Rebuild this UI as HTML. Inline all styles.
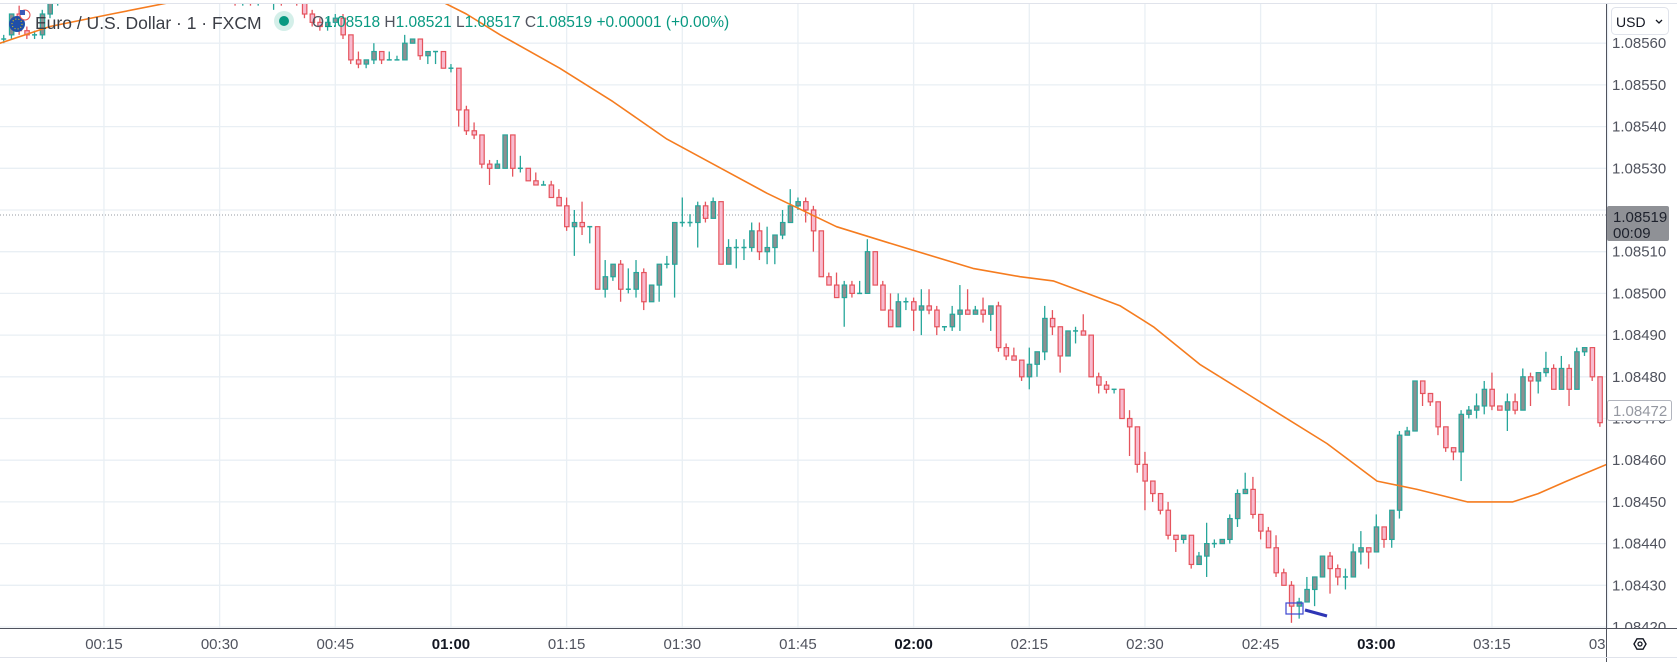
<!DOCTYPE html>
<html><head><meta charset="utf-8"><style>
html,body{margin:0;padding:0;background:#fff;}
svg{display:block;font-family:"Liberation Sans",sans-serif;}
</style></head><body>
<svg id="chart" width="1677" height="662" viewBox="0 0 1677 662" xmlns="http://www.w3.org/2000/svg">
<rect x="0" y="0" width="1677" height="662" fill="#ffffff"/>
<g id="grid"></g>
<defs><clipPath id="plotClip"><rect x="0" y="4" width="1607" height="624"/></clipPath>
<clipPath id="timeClip"><rect x="0" y="628" width="1607" height="34"/></clipPath>
<clipPath id="axisClip"><rect x="1607" y="4" width="70" height="624"/></clipPath></defs>
<g clip-path="url(#plotClip)">
<line x1="0" y1="215" x2="1607" y2="215" stroke="#9598a1" stroke-width="1" stroke-dasharray="1,2"/>
<g id="candles"></g>
<polyline id="ma" fill="none" stroke="#f57c1f" stroke-width="1.6" stroke-linejoin="round"/>
<rect x="1286" y="603" width="17" height="11" fill="none" stroke="#3c45d0" stroke-width="1.2"/>
<line x1="1305" y1="610" x2="1327" y2="616" stroke="#2e35b5" stroke-width="3"/>
</g>
<line x1="0" y1="3.5" x2="1677" y2="3.5" stroke="#e0e3eb" stroke-width="1"/>
<line x1="1606.5" y1="4" x2="1606.5" y2="662" stroke="#50535e" stroke-width="1"/>
<line x1="0" y1="628.5" x2="1677" y2="628.5" stroke="#50535e" stroke-width="1"/>
<line x1="0" y1="657.5" x2="1677" y2="657.5" stroke="#e0e3eb" stroke-width="1"/>
<g id="priceAxis" clip-path="url(#axisClip)"></g>
<g id="timeAxis" clip-path="url(#timeClip)"></g>
<g>
<rect x="1607" y="206" width="62" height="35" rx="2" fill="#8f9196"/>
<text x="1613" y="222" font-size="15" fill="#1e222d">1.08519</text>
<text x="1613" y="238" font-size="15" fill="#1e222d">00:09</text>
</g>
<g>
<rect x="1607.5" y="400.5" width="64" height="20" rx="2" fill="#ffffff" stroke="#b2b5be"/>
<text x="1613" y="416" font-size="15" fill="#9598a1">1.08472</text>
</g>
<g>
<rect x="1611.5" y="7.5" width="57" height="27" rx="4" fill="#ffffff" stroke="#e0e3eb"/>
<text x="1616" y="27" font-size="14" fill="#131722">USD</text>
<path d="M1656 20 l3 3 l3 -3" fill="none" stroke="#131722" stroke-width="1.3"/>
</g>
<g>
<polygon points="1634,644 1637,638.8 1643,638.8 1646,644 1643,649.2 1637,649.2" fill="none" stroke="#131722" stroke-width="1.4"/>
<circle cx="1640" cy="644" r="2" fill="none" stroke="#131722" stroke-width="1.3"/>
</g>
<g>
<g>
<circle cx="17" cy="24" r="8" fill="#1f4fa8"/>
<circle cx="17" cy="24" r="5" fill="none" stroke="#f5d000" stroke-width="1" stroke-dasharray="1,2.1"/>
<circle cx="25" cy="15" r="5" fill="#ffffff" stroke="#e74c4c" stroke-width="1"/>
<rect x="20" y="10" width="5" height="5" fill="#3a5ab8"/>
</g>
<text x="35" y="29" font-size="17.5" fill="#3b3e46">Euro / U.S. Dollar · 1 · FXCM</text>
<circle cx="284" cy="21" r="10" fill="#d4efe9"/>
<circle cx="284" cy="21" r="5" fill="#089981"/>
<text x="312" y="27" font-size="15.5" fill="#089981"><tspan fill="#50535e">O</tspan>1.08518 <tspan fill="#50535e">H</tspan>1.08521 <tspan fill="#50535e">L</tspan>1.08517 <tspan fill="#50535e">C</tspan>1.08519 +0.00001 (+0.00%)</text>
</g>
</svg>
<script>
// Candle data: index = minute since 00:00, prices (EUR/USD)
const opens =  [1.08559,1.08560,1.08561,1.08562,1.08567,1.08563,1.08562,1.08562,1.08567,1.08571,1.08573,1.08575,1.08577,1.08576,1.08579,1.08581,1.08580,1.08583,1.08582,1.08585,1.08584,1.08583,1.08581,1.08583,1.08585,1.08584,1.08582,1.08580,1.08579,1.08577,1.08575,1.08573,1.08574,1.08570,1.08572,1.08570,1.08573,1.08572,1.08573,1.08572,1.08573,1.08571,1.08567,1.08565,1.08564,1.08565,1.08566,1.08562,1.08556,1.08555,1.08556,1.08558,1.08556,1.08556,1.08556,1.08560,1.08561,1.08557,1.08558,1.08558,1.08554,1.08554,1.08544,1.08539,1.08538,1.08531,1.08530,1.08530,1.08538,1.08530,1.08530,1.08527,1.08526,1.08526,1.08523,1.08521,1.08516,1.08517,1.08516,1.08516,1.08501,1.08504,1.08507,1.08501,1.08501,1.08505,1.08498,1.08502,1.08507,1.08507,1.08517,1.08517,1.08517,1.08521,1.08518,1.08522,1.08507,1.08511,1.08511,1.08511,1.08515,1.08510,1.08511,1.08514,1.08517,1.08521,1.08522,1.08520,1.08515,1.08504,1.08502,1.08499,1.08502,1.08500,1.08500,1.08510,1.08502,1.08496,1.08492,1.08498,1.08498,1.08496,1.08497,1.08496,1.08492,1.08492,1.08495,1.08496,1.08495,1.08496,1.08495,1.08497,1.08487,1.08485,1.08484,1.08480,1.08483,1.08486,1.08494,1.08492,1.08485,1.08491,1.08491,1.08490,1.08480,1.08478,1.08477,1.08477,1.08470,1.08468,1.08459,1.08455,1.08452,1.08448,1.08442,1.08441,1.08442,1.08435,1.08437,1.08440,1.08440,1.08441,1.08446,1.08452,1.08453,1.08447,1.08443,1.08439,1.08433,1.08430,1.08425,1.08426,1.08429,1.08432,1.08437,1.08434,1.08432,1.08432,1.08438,1.08439,1.08438,1.08444,1.08441,1.08448,1.08466,1.08467,1.08479,1.08476,1.08474,1.08468,1.08463,1.08462,1.08471,1.08472,1.08473,1.08477,1.08473,1.08472,1.08474,1.08472,1.08480,1.08479,1.08481,1.08482,1.08477,1.08482,1.08477,1.08486,1.08487,1.08480];
const highs =  [1.08561,1.08562,1.08562,1.08567,1.08569,1.08564,1.08563,1.08568,1.08572,1.08574,1.08576,1.08578,1.08579,1.08580,1.08582,1.08583,1.08584,1.08585,1.08586,1.08587,1.08586,1.08585,1.08584,1.08586,1.08587,1.08585,1.08583,1.08582,1.08581,1.08578,1.08576,1.08575,1.08575,1.08573,1.08573,1.08574,1.08575,1.08574,1.08575,1.08574,1.08575,1.08573,1.08568,1.08566,1.08566,1.08567,1.08567,1.08562,1.08558,1.08556,1.08560,1.08558,1.08558,1.08557,1.08562,1.08561,1.08561,1.08558,1.08558,1.08558,1.08555,1.08554,1.08545,1.08541,1.08538,1.08532,1.08532,1.08538,1.08538,1.08533,1.08530,1.08529,1.08527,1.08527,1.08525,1.08523,1.08520,1.08522,1.08516,1.08516,1.08508,1.08507,1.08508,1.08506,1.08508,1.08506,1.08502,1.08507,1.08509,1.08517,1.08523,1.08519,1.08522,1.08522,1.08523,1.08522,1.08513,1.08513,1.08513,1.08517,1.08517,1.08516,1.08514,1.08520,1.08525,1.08523,1.08523,1.08521,1.08515,1.08505,1.08505,1.08503,1.08503,1.08503,1.08513,1.08510,1.08503,1.08500,1.08500,1.08499,1.08499,1.08501,1.08501,1.08497,1.08492,1.08497,1.08502,1.08501,1.08497,1.08499,1.08497,1.08498,1.08488,1.08487,1.08484,1.08487,1.08486,1.08497,1.08496,1.08492,1.08491,1.08492,1.08495,1.08490,1.08481,1.08479,1.08477,1.08477,1.08472,1.08468,1.08462,1.08455,1.08452,1.08450,1.08442,1.08442,1.08442,1.08438,1.08445,1.08441,1.08441,1.08447,1.08453,1.08457,1.08456,1.08447,1.08444,1.08442,1.08434,1.08431,1.08427,1.08432,1.08432,1.08437,1.08438,1.08435,1.08434,1.08440,1.08443,1.08439,1.08447,1.08444,1.08448,1.08467,1.08468,1.08479,1.08479,1.08476,1.08474,1.08468,1.08463,1.08472,1.08473,1.08476,1.08479,1.08481,1.08473,1.08476,1.08476,1.08482,1.08481,1.08481,1.08486,1.08483,1.08485,1.08483,1.08487,1.08487,1.08487,1.08480];
const lows =   [1.08558,1.08559,1.08560,1.08561,1.08562,1.08561,1.08561,1.08561,1.08566,1.08569,1.08572,1.08574,1.08575,1.08575,1.08578,1.08579,1.08579,1.08581,1.08581,1.08583,1.08582,1.08580,1.08580,1.08582,1.08583,1.08581,1.08579,1.08578,1.08576,1.08574,1.08572,1.08571,1.08569,1.08569,1.08569,1.08569,1.08571,1.08568,1.08569,1.08570,1.08569,1.08566,1.08564,1.08563,1.08563,1.08564,1.08561,1.08555,1.08554,1.08554,1.08555,1.08555,1.08556,1.08556,1.08556,1.08560,1.08556,1.08555,1.08555,1.08554,1.08553,1.08540,1.08538,1.08537,1.08530,1.08526,1.08530,1.08530,1.08528,1.08529,1.08527,1.08526,1.08526,1.08523,1.08521,1.08515,1.08509,1.08514,1.08512,1.08501,1.08499,1.08503,1.08498,1.08500,1.08499,1.08496,1.08498,1.08498,1.08506,1.08499,1.08516,1.08516,1.08511,1.08517,1.08518,1.08507,1.08507,1.08506,1.08508,1.08510,1.08508,1.08507,1.08507,1.08513,1.08517,1.08520,1.08517,1.08510,1.08504,1.08502,1.08499,1.08492,1.08499,1.08500,1.08500,1.08502,1.08496,1.08492,1.08492,1.08496,1.08491,1.08490,1.08495,1.08490,1.08491,1.08491,1.08491,1.08495,1.08495,1.08493,1.08491,1.08486,1.08484,1.08484,1.08479,1.08477,1.08480,1.08484,1.08490,1.08481,1.08485,1.08488,1.08490,1.08480,1.08476,1.08476,1.08476,1.08470,1.08461,1.08457,1.08448,1.08450,1.08447,1.08441,1.08438,1.08440,1.08434,1.08435,1.08432,1.08439,1.08440,1.08440,1.08444,1.08452,1.08446,1.08441,1.08439,1.08432,1.08430,1.08421,1.08422,1.08426,1.08425,1.08432,1.08428,1.08430,1.08429,1.08432,1.08435,1.08434,1.08438,1.08439,1.08439,1.08446,1.08466,1.08467,1.08473,1.08473,1.08466,1.08462,1.08460,1.08455,1.08470,1.08470,1.08471,1.08472,1.08472,1.08467,1.08471,1.08472,1.08473,1.08476,1.08480,1.08477,1.08477,1.08473,1.08477,1.08485,1.08479,1.08468];
const closes = [1.08560,1.08561,1.08561,1.08567,1.08563,1.08562,1.08562,1.08567,1.08571,1.08573,1.08575,1.08577,1.08576,1.08579,1.08581,1.08580,1.08583,1.08582,1.08585,1.08584,1.08583,1.08581,1.08583,1.08585,1.08584,1.08582,1.08580,1.08579,1.08577,1.08575,1.08573,1.08574,1.08570,1.08572,1.08570,1.08573,1.08574,1.08573,1.08572,1.08573,1.08571,1.08567,1.08565,1.08564,1.08565,1.08566,1.08562,1.08556,1.08555,1.08556,1.08558,1.08556,1.08556,1.08556,1.08560,1.08561,1.08557,1.08558,1.08558,1.08554,1.08554,1.08544,1.08539,1.08538,1.08531,1.08530,1.08531,1.08538,1.08530,1.08530,1.08527,1.08526,1.08526,1.08523,1.08521,1.08516,1.08517,1.08516,1.08516,1.08501,1.08504,1.08507,1.08501,1.08501,1.08505,1.08498,1.08502,1.08507,1.08507,1.08517,1.08517,1.08517,1.08521,1.08518,1.08522,1.08507,1.08511,1.08511,1.08511,1.08515,1.08510,1.08511,1.08514,1.08517,1.08521,1.08522,1.08520,1.08515,1.08504,1.08502,1.08499,1.08502,1.08500,1.08500,1.08510,1.08502,1.08496,1.08492,1.08498,1.08498,1.08496,1.08497,1.08496,1.08492,1.08492,1.08495,1.08496,1.08495,1.08496,1.08495,1.08497,1.08487,1.08485,1.08484,1.08480,1.08483,1.08486,1.08494,1.08492,1.08485,1.08491,1.08491,1.08490,1.08480,1.08478,1.08477,1.08477,1.08470,1.08468,1.08459,1.08455,1.08452,1.08448,1.08442,1.08441,1.08442,1.08435,1.08437,1.08440,1.08440,1.08441,1.08446,1.08452,1.08453,1.08447,1.08443,1.08439,1.08433,1.08430,1.08425,1.08426,1.08429,1.08432,1.08437,1.08434,1.08432,1.08432,1.08438,1.08439,1.08438,1.08444,1.08441,1.08448,1.08466,1.08467,1.08479,1.08476,1.08474,1.08468,1.08463,1.08462,1.08471,1.08472,1.08473,1.08477,1.08473,1.08472,1.08474,1.08472,1.08480,1.08479,1.08481,1.08482,1.08477,1.08482,1.08477,1.08486,1.08487,1.08480,1.08469];
// Moving average: minute, value
const maMinutes = [0,1.5,8,16,24.2,57.7,62,66.4,74.1,81,88,94,101,110,117,127.7,133.8,138.1,142.5,146.8,151.1,157.1,163.2,167.5,173.6,180.1,185.3,191.8,197.7,201,204.7,209.9,212];
const maValues  = [1.08558,1.08560,1.08564,1.08567,1.08570,1.08571,1.08567,1.08562,1.08554,1.08546,1.08537,1.08531,1.08524,1.08516,1.08512,1.08506,1.08504,1.08503,1.08500,1.08497,1.08492,1.08483,1.08476,1.08471,1.08464,1.08455,1.08453,1.08450,1.08450,1.08452,1.08455,1.08459,1.08460];
const priceTicks = [1.08420,1.08430,1.08440,1.08450,1.08460,1.08470,1.08480,1.08490,1.08500,1.08510,1.08520,1.08530,1.08540,1.08550,1.08560];
const priceTickLabels = ["1.08420","1.08430","1.08440","1.08450","1.08460","1.08470","1.08480","1.08490","1.08500","1.08510","","1.08530","1.08540","1.08550","1.08560"];
const timeTicks = [15,30,45,60,75,90,105,120,135,150,165,180,195,210];
const timeTickLabels = ["00:15","00:30","00:45","01:00","01:15","01:30","01:45","02:00","02:15","02:30","02:45","03:00","03:15","03:30"];
const timeTickBold = [false,false,false,true,false,false,false,true,false,false,false,true,false,false];

const NS='http://www.w3.org/2000/svg';
function xs(m){return -11.7+7.711*m;}
function ys(p){return 627-(p-1.0842)*1e5*4.17;}
function mk(tag,attrs,parent){const e=document.createElementNS(NS,tag);for(const k in attrs)e.setAttribute(k,attrs[k]);parent.appendChild(e);return e;}

const grid=document.getElementById('grid');
priceTicks.forEach(p=>{const l=mk('line',{x1:0,x2:1607,y1:ys(p),y2:ys(p),stroke:'#e9eff4','stroke-width':1.3},grid);

});
timeTicks.forEach(m=>{const l=mk('line',{x1:xs(m),x2:xs(m),y1:4,y2:628,stroke:'#e9eff4','stroke-width':1.3},grid);

});

const pa=document.getElementById('priceAxis');
priceTicks.forEach((p,i)=>{if(!priceTickLabels[i])return;const t=mk('text',{x:1612,y:ys(p)+5,'font-size':15,fill:'#50535e'},pa);t.textContent=priceTickLabels[i];

});
const ta=document.getElementById('timeAxis');
timeTicks.forEach((m,i)=>{const t=mk('text',{x:xs(m),y:649,'font-size':15,'text-anchor':'middle',fill:timeTickBold[i]?'#131722':'#50535e','font-weight':timeTickBold[i]?'bold':'normal'},ta);t.textContent=timeTickLabels[i];

});

const cg=document.getElementById('candles');
for(let i=0;i<opens.length;i++){
  const o=opens[i],h=highs[i],l=lows[i],c=closes[i];
  const up=c>=o; const col=up?'#26a69a':'#e5545d'; const fill=up?'#8e8f91':'#f8bbcf';
  const x=xs(i);
  const g=mk('g',{},cg);
  
  
  mk('line',{x1:x,x2:x,y1:ys(h),y2:ys(l),stroke:col,'stroke-width':1.3},g);
  const top=ys(Math.max(o,c)),bot=ys(Math.min(o,c));
  if(bot-top<1.5){mk('line',{x1:x-2.5,x2:x+2.5,y1:top,y2:top,stroke:col,'stroke-width':1.5},g);}
  else{mk('rect',{x:x-2,y:top,width:4.4,height:bot-top,fill:fill,stroke:col,'stroke-width':1.2},g);}
}
document.getElementById('ma').setAttribute('points',maMinutes.map((m,i)=>xs(m).toFixed(1)+','+ys(maValues[i]).toFixed(1)).join(' '));
</script>
</body></html>
